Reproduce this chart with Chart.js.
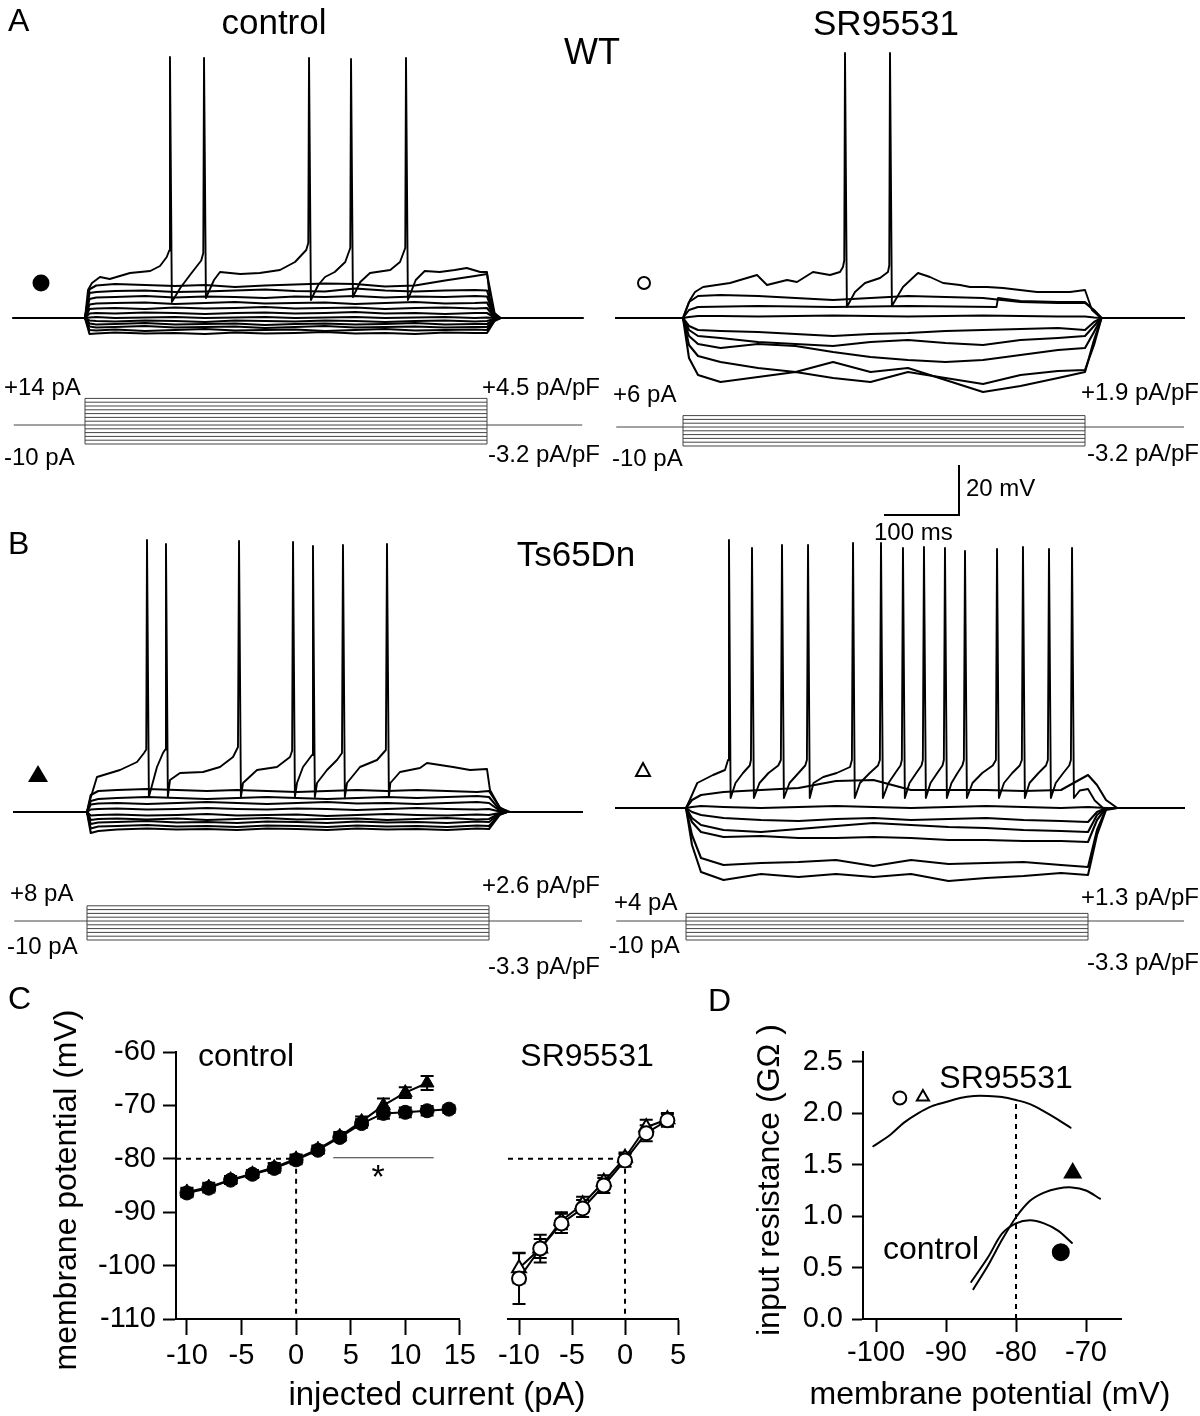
<!DOCTYPE html>
<html>
<head>
<meta charset="utf-8">
<title>Figure</title>
<script src="https://cdn.jsdelivr.net/npm/chart.js@4.4.1/dist/chart.umd.min.js"></script>
<style>
html,body{margin:0;padding:0;background:#fff;}
#fig{position:relative;width:1200px;height:1416px;overflow:hidden;background:#fff;font-family:"Liberation Sans",Arial,Helvetica,sans-serif;color:#000;}
#fig canvas{position:absolute;}
.lbl{position:absolute;white-space:nowrap;line-height:1;}
</style>
</head>
<body>
<div id="fig"></div>
<script>
// ===================== DATA =====================
const REST = -80;          // resting potential (mV)
const STEP_MS = 536;       // duration of current step (ms)

// ---- Panel A, WT control (currents in pA) ----
const aCtrlSteps = [14,12,10,8,6,4,2,0,-2,-4,-6,-8,-10];
const aCtrlTime = [-95,0,6,15,40,80,120,160,200,240,280,320,360,400,440,480,520,536,546,554,663];
const aCtrlVm = [
 [-80,-80,-68.5,-67,-66.4,-66.8,-67.2,-66.8,-67.6,-67.0,-66.6,-66.2,-66.4,-67.4,-67.0,-65.0,-63.2,-62.4,-78,-80,-80],   // +12
 [-80,-80,-70,-69.6,-69.2,-69.0,-69.6,-69.4,-69.0,-68.6,-69.2,-69.4,-68.2,-69.0,-69.4,-69.0,-68.8,-69.0,-79,-80,-80],    // +10
 [-80,-80,-72.4,-71.8,-71.6,-71.2,-71.8,-71.4,-71.6,-72.0,-71.4,-71.6,-71.2,-71.8,-71.4,-71.6,-71.2,-71.4,-79.5,-80,-80], // +8
 [-80,-80,-74.6,-74.2,-74.0,-73.8,-74.4,-74.0,-73.6,-74.2,-74.0,-73.8,-74.4,-74.0,-73.6,-74.2,-74.0,-73.8,-79.6,-80,-80], // +6
 [-80,-80,-76.4,-76.2,-76.0,-76.4,-75.8,-76.2,-76.0,-75.6,-76.2,-76.0,-75.8,-76.4,-76.0,-75.8,-76.2,-76.0,-79.7,-80,-80], // +4
 [-80,-80,-78.2,-78.0,-78.2,-77.8,-78.0,-78.4,-78.0,-77.8,-78.2,-78.0,-77.6,-78.2,-78.0,-78.4,-78.0,-78.0,-79.8,-80,-80], // +2
 [-80,-80,-79.8,-79.6,-80.0,-79.8,-79.6,-80.0,-79.8,-79.6,-80.0,-79.8,-79.6,-80.0,-79.8,-79.6,-80.0,-79.8,-80,-80,-80],   // 0
 [-80,-80,-81.0,-81.2,-81.4,-81.0,-81.2,-81.6,-81.0,-81.2,-81.4,-81.0,-81.2,-81.6,-81.2,-81.0,-81.4,-81.2,-80.3,-80,-80], // -2
 [-80,-80,-82.2,-82.6,-82.4,-82.0,-82.6,-82.4,-82.2,-82.8,-82.4,-82.2,-82.6,-82.4,-82.0,-82.6,-82.4,-82.4,-80.5,-80,-80], // -4
 [-80,-80,-83.4,-83.8,-83.6,-83.2,-83.8,-83.6,-83.4,-84.0,-83.6,-83.2,-83.8,-83.6,-83.4,-83.8,-83.6,-83.6,-80.7,-80,-80], // -6
 [-80,-80,-84.8,-85.0,-84.6,-85.2,-84.8,-84.4,-85.0,-84.8,-84.6,-85.2,-84.8,-84.4,-85.0,-84.8,-84.6,-84.8,-81,-80,-80],   // -8
 [-80,-80,-86.4,-86.2,-85.8,-86.2,-86.0,-86.4,-85.8,-86.2,-86.0,-85.6,-86.2,-86.0,-86.4,-85.8,-86.0,-86.0,-81.2,-80,-80]  // -10
];
const aCtrlSpiking = [[-95,-80],[0,-80],[4,-68.8],[9.3,-66],[20,-63.6],[33,-64.4],[60,-62],[87,-61.2],[100,-59.2],[109,-55.6],[112.3,-53],[113.3,24.4],[115.8,-73.6],[127,-68],[140,-62.8],[155,-57],[157.7,-54],[158.7,24],[161.2,-72],[172,-64.8],[180,-61.6],[207,-62.4],[233,-62],[260,-60.8],[280,-57.6],[295,-52.8],[297.7,-50],[298.7,24],[301.2,-72.8],[311,-66.8],[320,-63.6],[333,-61.6],[347,-57.6],[353.7,-52],[354.7,23.6],[357.2,-71.6],[367,-65.6],[380,-62],[407,-60.8],[420,-57.6],[427,-52],[428,24],[430.5,-72.8],[441,-64.8],[453,-61.2],[473,-61.6],[493,-60.8],[509,-60],[527,-61.6],[536,-61.6],[540,-72.8],[548,-80],[663,-80]];

// ---- Panel A, WT SR95531 ----
const aSrSteps = [6,4,2,0,-2,-4,-6,-8,-10];
const aSrTime = [-89,0,8,20,50,100,150,200,250,300,350,400,450,500,536,548,558,668];
const aSrVm = [
 [-80,-80,-73.6,-71.2,-70.8,-71.2,-72,-72.8,-72,-71.2,-71.6,-72,-73.6,-74,-74,-76.8,-80,-80],            // +4
 [-80,-80,-79.6,-79.2,-79.2,-79.4,-79.2,-79.0,-79.2,-79.4,-79.2,-79.0,-79.2,-79.4,-79.4,-79.8,-80,-80],  // 0
 [-80,-80,-83.2,-84.8,-85.2,-85.6,-86.4,-87.2,-86.4,-86,-85.2,-84.8,-84.4,-84,-84.8,-81.6,-80,-80],      // -2
 [-80,-80,-84.8,-87.2,-88,-89.6,-90.4,-91.2,-89.6,-88.8,-90,-90.8,-88.8,-88,-87.2,-83.2,-80,-80],        // -4
 [-80,-80,-87.2,-90.4,-92,-90.4,-91.2,-93.6,-95.6,-96.8,-97.6,-96.8,-94.8,-92.8,-92,-85.6,-80,-80],      // -6
 [-80,-80,-90.8,-95.2,-97.6,-100,-101.6,-97.6,-101.6,-100,-104.8,-109.6,-107.2,-104,-101.6,-88.8,-80,-80], // -8
 [-80,-80,-96,-102.8,-105.6,-103.6,-101.6,-104,-105.6,-101.6,-104,-106.4,-102.8,-101.2,-100.8,-90.8,-80,-80] // -10
];
const aSrPlus2 = [[-89,-80],[0,-80],[8,-76.8],[20,-75.6],[100,-75.2],[200,-75.6],[300,-75.2],[418,-75.6],[420,-72],[430,-72.4],[450,-73.2],[500,-73.6],[536,-73.6],[548,-77],[558,-80],[668,-80]];
const aSrSpiking = [[-89,-80],[0,-80],[9.3,-72.8],[16,-69.6],[26.7,-67.6],[62.7,-66],[98.7,-62.8],[112,-66.8],[138.7,-64.8],[152,-65.6],[173.3,-61.6],[196,-62.8],[209.3,-61.6],[213.3,-59.6],[215,-57],[216,26],[218.5,-75.6],[229.3,-69.6],[242.7,-66],[262.7,-64],[273.3,-61.6],[275,-59],[276,26],[278.5,-75.2],[293.3,-67.6],[313.3,-62],[329.3,-63.6],[346.7,-66],[369.3,-66.8],[382.7,-67.6],[405.3,-67.6],[426.7,-68],[449.3,-68.8],[472,-69.6],[493.3,-69.6],[516,-69.6],[536,-68.8],[545.3,-76.8],[557.3,-80],[668,-80]];

// ---- Panel B, Ts65Dn control ----
const bCtrlSteps = [8,6,4,2,0,-2,-4,-6,-8,-10];
const bCtrlTime = [-97,0,5,15,40,80,120,160,200,240,280,320,360,400,440,480,520,536,550,560,660];
const bCtrlVm = [
 [-80,-80,-73.2,-71.6,-71.2,-70.8,-71.2,-71.6,-71.2,-71.6,-72,-71.6,-71.2,-71.6,-71.2,-71.6,-72,-71.6,-78,-80,-80],      // +6
 [-80,-80,-75.6,-74.8,-74.4,-74.0,-74.4,-74.8,-74.4,-74.0,-74.4,-74.8,-74.4,-74.0,-74.4,-74.0,-73.6,-74.0,-79,-80,-80],  // +4
 [-80,-80,-77,-76.6,-76.4,-76.8,-76.4,-76.0,-76.4,-76.8,-76.4,-76.0,-76.6,-76.4,-76.8,-76.4,-76.0,-76.4,-79.4,-80,-80],  // +2
 [-80,-80,-79,-78.8,-78.6,-79,-78.8,-78.4,-78.8,-79,-78.6,-78.8,-79.2,-78.8,-78.4,-78.8,-79,-78.8,-79.8,-80,-80],        // 0
 [-80,-80,-81.4,-81.2,-81.0,-81.4,-81.2,-80.8,-81.4,-81.2,-81.0,-81.6,-81.2,-80.8,-81.2,-81.4,-81.0,-81.2,-80.4,-80,-80], // -2
 [-80,-80,-83.2,-82.8,-82.6,-83.0,-82.6,-83.2,-82.8,-82.4,-83.0,-82.8,-82.6,-83.2,-82.8,-82.4,-83.0,-82.8,-80.6,-80,-80], // -4
 [-80,-80,-84.8,-84.2,-84.0,-83.6,-84.2,-84.0,-84.4,-83.8,-84.0,-84.4,-83.8,-84.2,-84.0,-84.4,-83.8,-84.0,-80.8,-80,-80], // -6
 [-80,-80,-86.6,-85.8,-85.6,-85.2,-85.8,-85.6,-86.0,-85.4,-85.6,-86.0,-85.4,-85.8,-85.6,-86.0,-85.4,-85.6,-81,-80,-80],   // -8
 [-80,-80,-88.4,-87.6,-87.0,-86.6,-87.0,-86.8,-87.2,-86.6,-86.8,-87.2,-86.6,-87.0,-86.8,-87.2,-86.6,-86.8,-81.2,-80,-80]  // -10
];
const bCtrlSpiking = [[-97,-80],[0,-80],[4,-75.2],[13.3,-66],[44,-63.2],[66.7,-60],[76,-56.4],[79,-55],[80,28.8],[82.5,-74],[93.3,-62],[101.3,-56.4],[104.3,-55],[105.3,27.2],[107.8,-74],[110.7,-67.2],[124,-64.4],[154.7,-64],[177.3,-62],[194.7,-58],[201.3,-54],[202.7,28.4],[205.2,-74],[208,-68.4],[226.7,-63.2],[253.3,-62],[270.7,-58],[273.5,-55.5],[274.7,28],[277.2,-74],[280,-68.4],[288,-62],[300,-57.2],[301.3,26.4],[303.8,-74],[306.7,-68.4],[320,-63.2],[333.3,-59.2],[340,-56.4],[341.3,26.8],[343.8,-74],[346.7,-68.4],[364,-62],[386.7,-59.2],[398.5,-55.2],[400,27.2],[402.5,-74],[404.5,-68.4],[417.3,-64],[444,-62.4],[453.3,-60.4],[470.7,-61.2],[488,-62],[510.7,-63.2],[533.3,-62.8],[537.3,-71.2],[550.7,-78.4],[564,-80],[660,-80]];

// ---- Panel B, Ts65Dn SR95531 ----
const bSrSteps = [4,2,0,-2,-4,-6,-8,-10];
const bSrTime = [-93,0,8,20,50,100,150,200,250,300,350,400,450,500,536,548,560,575,664];
const bSrVm = [
 [-80,-80,-76.8,-74.8,-73.6,-72.8,-72,-69.2,-68.8,-72.8,-72.8,-72.8,-73.2,-72.8,-66.8,-70.8,-76.8,-80,-80],     // +2
 [-80,-80,-79.6,-79.2,-79.6,-80,-79.6,-79.2,-79.6,-80,-79.6,-79.2,-79.6,-80,-79.6,-79.8,-80,-80,-80],            // 0
 [-80,-80,-81.6,-82.8,-84,-84.8,-85.2,-84.4,-84,-84.8,-84.4,-84,-84.8,-85.2,-85.6,-81.6,-80,-80,-80],            // -2
 [-80,-80,-84,-86.8,-88.8,-89.6,-88.4,-87.2,-86,-86.8,-87.6,-88,-88.8,-89.2,-89.6,-82.8,-80,-80,-80],            // -4
 [-80,-80,-85.6,-89.6,-91.6,-91.2,-92,-92,-91.6,-92,-92.8,-92.8,-93.2,-93.2,-93.6,-84.8,-80,-80,-80],            // -6
 [-80,-80,-90.8,-100,-102.8,-102,-101.6,-100.8,-103.2,-100.8,-102.4,-102,-101.6,-102.8,-103.6,-88.8,-80.4,-80,-80], // -8
 [-80,-80,-94.8,-105.6,-108.8,-106.4,-107.6,-106.4,-107.6,-106.4,-109.2,-108,-107.2,-106,-106.8,-90.8,-80.8,-80,-80] // -10
];
const bSrSpiking = [[-93,-80],[0,-80],[5,-76.8],[15,-70],[36,-66.8],[52,-64.8],[56,-60.8],[57.3,27.2],[59.5,-76],
 [66,-70],[76,-66],[85,-63],[86.6,-60.8],[88,24],[90.5,-76],
 [98,-70],[110,-66],[123,-63],[126.5,-60.8],[128,25.2],[130.5,-76],
 [138,-70],[150,-66],[159,-63],[161.2,-60.8],[162.7,25.2],[165,-76],
 [170,-70],[183,-67.6],[201,-66],[218.7,-63.6],[221.2,-60.8],[222.7,26],[225,-76],
 [232,-70],[245,-66],[256,-63],[258.5,-60.8],[260,26],[262.5,-76],
 [270,-70],[279,-66],[286,-63],[287.8,-60.8],[289.3,24],[291.8,-76],
 [298,-70],[307,-66],[314,-63],[315.8,-60.8],[317.3,24.4],[319.8,-76],
 [326,-70],[335,-66],[342,-63],[343.8,-60.8],[345.3,24],[347.8,-76],
 [354,-70],[362,-66],[368.5,-63],[370.5,-60.8],[372,22.8],[374.5,-76],
 [382,-70],[395,-66],[409,-63],[413.2,-60.8],[414.7,23.6],[417.2,-76],
 [424,-70],[435,-66],[445,-63],[447.8,-60.8],[449.3,24.4],[451.8,-76],
 [458,-70],[470,-66],[480,-63],[482.5,-60.8],[484,23.6],[486.5,-76],
 [493,-70],[503,-66],[511,-63],[513.2,-60.8],[514.7,24],[517.2,-76],
 [525,-73],[536,-72.4],[545,-77],[556,-80],[664,-80]];

// ---- Scale bar ----
const scaleBarMs = 100, scaleBarMv = 20;

// ---- Panel C: I-V relations ----
const cCtrlTicksX = [-10,-5,0,5,10,15];
const cSrTicksX = [-10,-5,0,5];
const cTicksY = [-110,-100,-90,-80,-70,-60];
const cCurrentWT = [-10,-8,-6,-4,-2,0,2,4,6,8,10,12,14];
const cVmWT      = [-86.4,-85.5,-84.0,-82.9,-81.8,-80.2,-78.4,-76.0,-73.4,-71.5,-71.3,-71.0,-70.7];
const cSemWT     = [0.8,0.8,0.7,0.7,0.8,0.8,0.7,0.7,0.8,1.0,0.9,0.9,0.7];
const cCurrentTs = [-10,-8,-6,-4,-2,0,2,4,6,8,10,12];
const cVmTs      = [-86.2,-85.3,-83.9,-82.8,-81.6,-80.0,-78.2,-75.8,-73.0,-70.0,-67.6,-65.8];
const cSemTs     = [0.8,0.8,0.7,0.7,0.8,0.8,0.7,0.8,0.9,1.3,1.0,1.3];
const cSrCurrent = [-10,-8,-6,-4,-2,0,2,4];
const cSrVmWT    = [-102.4,-96.8,-92.1,-89.3,-85.0,-80.3,-75.2,-72.8];
const cSrSemWT   = [4.8,1.8,1.8,1.6,1.4,1.2,1.5,1.2];
const cSrVmTs    = [-100.5,-96.8,-91.6,-88.5,-84.3,-79.8,-74.1,-72.6];
const cSrSemTs   = [2.8,2.6,1.6,1.4,1.2,1.0,1.4,1.2];
const cSigBar    = [3.4,12.6];   // pA range of significance bar
const cSigBarVm  = -79.8;

// ---- Panel D: input resistance vs membrane potential ----
const dTicksX = [-100,-90,-80,-70];
const dTicksY = [0,0.5,1,1.5,2,2.5];
const dSrVm   = [-100.4,-98,-96,-94,-92,-90,-88,-86,-84,-82,-80,-78,-76,-74,-72.2];
const dSrRin  = [1.68,1.79,1.91,2.0,2.07,2.11,2.15,2.17,2.17,2.16,2.13,2.09,2.02,1.94,1.86];
const dWtVm   = [-86.4,-84,-82,-80,-78,-76,-74,-72];
const dWtRin  = [0.36,0.60,0.83,0.93,0.96,0.93,0.86,0.74];
const dTsVm   = [-86.1,-84,-82,-80,-78,-76,-74,-72,-70,-68];
const dTsRin  = [0.29,0.52,0.77,0.99,1.15,1.23,1.27,1.28,1.25,1.17];
const dMarkVm  = [-96.6,-93.3,-71.9,-73.6];   // open circle, open triangle, filled triangle, filled circle
const dMarkRin = [2.15,2.16,1.42,0.65];
const dRefVm = -80, dRefTop = 2.10;

// ===================== LAYOUT / DRAWING =====================
const FONT = '"Liberation Sans", Arial, Helvetica, sans-serif';
Chart.defaults.font.family = FONT;
Chart.defaults.color = '#000';
const PX_PER_MS = 0.75, PX_PER_MV = 2.5, PX_PER_PA = 1.9;
const TICK_FONT = 29;
const fig = document.getElementById('fig');

function addCanvas(left, top, w, h){
  const c = document.createElement('canvas');
  c.width = w; c.height = h;
  c.style.left = left + 'px'; c.style.top = top + 'px';
  c.style.width = w + 'px'; c.style.height = h + 'px';
  fig.appendChild(c);
  return c;
}
function addText(txt, x, y, size, anchor, rot){
  const d = document.createElement('div');
  d.className = 'lbl';
  d.textContent = txt;
  d.style.fontSize = size + 'px';
  d.style.left = x + 'px'; d.style.top = y + 'px';
  const tx = anchor === 'c' ? '-50%' : (anchor === 'r' ? '-100%' : '0');
  d.style.transform = 'translate(' + tx + ',-50%)' + (rot ? ' rotate(' + rot + 'deg)' : '');
  fig.appendChild(d);
}
const baseOpts = {responsive:false, maintainAspectRatio:false, animation:false, devicePixelRatio:1, events:[],
  plugins:{legend:{display:false}, tooltip:{enabled:false}}};

function lineDs(pts, w, extra){
  return Object.assign({data:pts, showLine:true, borderColor:'#000', borderWidth:w, pointRadius:0,
    fill:false, tension:0, borderJoinStyle:'round', borderCapStyle:'round', yAxisID:'y'}, extra || {});
}

function traceChart(spec){
  const c = addCanvas(spec.left, spec.top, spec.width, spec.height);
  const x0 = spec.onsetX - spec.left, yr = spec.restY - spec.top, yz = spec.zeroY - spec.top;
  const ds = [];
  spec.gridTraces.forEach(vals => ds.push(lineDs(spec.grid.map((t,i)=>({x:t, y:vals[i]})), 2.1)));
  spec.pairTraces.forEach(p => ds.push(lineDs(p.map(q=>({x:q[0], y:q[1]})), 1.9)));
  const imax = Math.max(...spec.steps), imin = Math.min(...spec.steps);
  const sOpt = {borderColor:'#444', yAxisID:'y2', borderCapStyle:'butt'};
  spec.steps.forEach(I => ds.push(lineDs([{x:0,y:I},{x:STEP_MS,y:I}], 1, sOpt)));
  ds.push(lineDs([{x:0,y:imin},{x:0,y:imax}], 1, sOpt));
  ds.push(lineDs([{x:STEP_MS,y:imin},{x:STEP_MS,y:imax}], 1, sOpt));
  ds.push(lineDs([{x:spec.tStart,y:0},{x:0,y:0}], 1, sOpt));
  ds.push(lineDs([{x:STEP_MS,y:0},{x:spec.tEnd,y:0}], 1, sOpt));
  if (spec.scaleBar){
    const cx = (spec.scaleBar.x - spec.onsetX)/PX_PER_MS;
    const cy = REST - (spec.scaleBar.y - spec.restY)/PX_PER_MV;
    ds.push(lineDs([{x:cx - scaleBarMs, y:cy},{x:cx, y:cy},{x:cx, y:cy + scaleBarMv}], 2, {borderCapStyle:'butt', borderJoinStyle:'miter'}));
  }
  new Chart(c, {type:'scatter', data:{datasets:ds}, options:Object.assign({}, baseOpts, {
    layout:{padding:0},
    scales:{
      x:{type:'linear', display:false, min:-x0/PX_PER_MS, max:(spec.width - x0)/PX_PER_MS},
      y:{type:'linear', display:false, min:REST - (spec.height - yr)/PX_PER_MV, max:REST + yr/PX_PER_MV},
      y2:{type:'linear', display:false, min:-(spec.height - yz)/PX_PER_PA, max:yz/PX_PER_PA}
    }})});
}

// A - WT control
traceChart({left:0, top:0, width:600, height:480, onsetX:85, restY:318, zeroY:425,
  grid:aCtrlTime, gridTraces:aCtrlVm, pairTraces:[aCtrlSpiking], steps:aCtrlSteps, tStart:-95, tEnd:663});
// A - WT SR95531 (with scale bar)
traceChart({left:600, top:0, width:600, height:530, onsetX:683, restY:318, zeroY:427,
  grid:aSrTime, gridTraces:aSrVm, pairTraces:[aSrPlus2, aSrSpiking], steps:aSrSteps, tStart:-89, tEnd:668,
  scaleBar:{x:959, y:515}});
// B - Ts65Dn control
traceChart({left:0, top:480, width:600, height:500, onsetX:87, restY:812, zeroY:921,
  grid:bCtrlTime, gridTraces:bCtrlVm, pairTraces:[bCtrlSpiking], steps:bCtrlSteps, tStart:-97, tEnd:660});
// B - Ts65Dn SR95531
traceChart({left:600, top:480, width:600, height:500, onsetX:686, restY:808, zeroY:921,
  grid:bSrTime, gridTraces:bSrVm, pairTraces:[bSrSpiking], steps:bSrSteps, tStart:-93, tEnd:664});

// ---------- error bar plugin ----------
const errorBarPlugin = {
  id:'errbars',
  beforeDatasetsDraw(chart, args, opts){
    const ctx = chart.ctx, x = chart.scales.x, y = chart.scales.y;
    ctx.save(); ctx.strokeStyle = '#000'; ctx.lineWidth = 2;
    (opts.sets || []).forEach(s => {
      chart.data.datasets[s.index].data.forEach((p, i) => {
        const e = s.sem[i], px = x.getPixelForValue(p.x);
        const y1 = y.getPixelForValue(p.y + e), y2 = y.getPixelForValue(p.y - e);
        ctx.beginPath();
        ctx.moveTo(px, y1); ctx.lineTo(px, y2);
        ctx.moveTo(px - 6.5, y1); ctx.lineTo(px + 6.5, y1);
        ctx.moveTo(px - 6.5, y2); ctx.lineTo(px + 6.5, y2);
        ctx.stroke();
      });
    });
    ctx.restore();
  }
};
function axis(min, max, ticks, tickLen, pad, fit, display, fmt){
  return {type:'linear', min:min, max:max, display:display,
    afterBuildTicks:s => { s.ticks = ticks.map(v => ({value:v})); },
    afterFit:fit,
    grid:{display:true, drawOnChartArea:false, drawTicks:true, tickLength:tickLen, tickWidth:2, tickColor:'#000'},
    border:{display:true, color:'#000', width:2},
    ticks:{color:'#000', font:{size:TICK_FONT, family:FONT}, padding:pad, autoSkip:false, maxRotation:0, minRotation:0,
      callback: fmt || (v => String(v))}};
}
const pts = (xs, ys) => xs.map((v,i) => ({x:v, y:ys[i]}));
const dash = (p) => lineDs(p, 2, {borderDash:[5,5], borderCapStyle:'butt'});

// ---------- C: control ----------
{
  const c = addCanvas(0, 980, 480, 436);
  const xMin = -11, xMax = 15;
  new Chart(c, {type:'scatter', plugins:[errorBarPlugin], data:{datasets:[
    lineDs(pts(cCurrentWT, cVmWT), 2, {pointRadius:7, pointStyle:'circle', pointBackgroundColor:'#000', pointBorderColor:'#000', pointBorderWidth:1}),
    lineDs(pts(cCurrentTs, cVmTs), 2, {pointRadius:8, pointStyle:'triangle', pointBackgroundColor:'#000', pointBorderColor:'#000', pointBorderWidth:1}),
    dash([{x:xMin, y:REST},{x:0, y:REST}]),
    dash([{x:0, y:REST},{x:0, y:-110}]),
    lineDs([{x:cSigBar[0], y:cSigBarVm},{x:cSigBar[1], y:cSigBarVm}], 1.2, {borderColor:'#333', borderCapStyle:'butt'})
  ]}, options:Object.assign({}, baseOpts, {
    layout:{padding:{left:0, top:72, right:20, bottom:0}},
    plugins:{legend:{display:false}, tooltip:{enabled:false}, errbars:{sets:[{index:0, sem:cSemWT},{index:1, sem:cSemTs}]}},
    scales:{
      x:axis(xMin, xMax, cCtrlTicksX, 16, 4, s => { s.height = 97; }, true),
      y:axis(-110, -60, cTicksY, 13, 7, s => { s.width = 176; }, true)
    }})});
}
// ---------- C: SR95531 ----------
{
  const c = addCanvas(480, 980, 240, 436);
  const xMin = -11.04, xMax = 5;
  new Chart(c, {type:'scatter', plugins:[errorBarPlugin], data:{datasets:[
    lineDs(pts(cSrCurrent, cSrVmWT), 2, {pointRadius:7, pointStyle:'circle', pointBackgroundColor:'#fff', pointBorderColor:'#000', pointBorderWidth:2}),
    lineDs(pts(cSrCurrent, cSrVmTs), 2, {pointRadius:8, pointStyle:'triangle', pointBackgroundColor:'#fff', pointBorderColor:'#000', pointBorderWidth:2}),
    dash([{x:xMin, y:REST},{x:0, y:REST}]),
    dash([{x:0, y:REST},{x:0, y:-110}])
  ]}, options:Object.assign({}, baseOpts, {
    layout:{padding:{left:28, top:72, right:42, bottom:0}},
    plugins:{legend:{display:false}, tooltip:{enabled:false}, errbars:{sets:[{index:1, sem:cSrSemTs},{index:0, sem:cSrSemWT}]}},
    scales:{
      x:axis(xMin, xMax, cSrTicksX, 16, 4, s => { s.height = 97; }, true),
      y:axis(-110, -60, cTicksY, 13, 8, null, false)
    }})});
}
// ---------- D ----------
{
  const c = addCanvas(720, 980, 480, 436);
  const mk = (i, style, fill, r) => ({data:[{x:dMarkVm[i], y:dMarkRin[i]}], showLine:false, pointStyle:style, pointRadius:r,
    pointBackgroundColor:fill, pointBorderColor:'#000', pointBorderWidth:2});
  new Chart(c, {type:'scatter', data:{datasets:[
    mk(0, 'circle', '#fff', 6.5), mk(1, 'triangle', '#fff', 7), mk(2, 'triangle', '#000', 9), mk(3, 'circle', '#000', 8),
    lineDs(pts(dSrVm, dSrRin), 2, {tension:0.3}),
    lineDs(pts(dWtVm, dWtRin), 2, {tension:0.3}),
    lineDs(pts(dTsVm, dTsRin), 2, {tension:0.3}),
    dash([{x:dRefVm, y:0},{x:dRefVm, y:dRefTop}])
  ]}, options:Object.assign({}, baseOpts, {
    layout:{padding:{left:0, top:72, right:79, bottom:0}},
    scales:{
      x:axis(-101.86, -65, dTicksX, 13, 4, s => { s.height = 97; }, true),
      y:axis(0, 2.597, dTicksY, 11, 9, s => { s.width = 143; }, true, v => v.toFixed(1))
    }})});
}

// ---------- legend markers (A/B) ----------
const svgNS = 'http://www.w3.org/2000/svg';
const svg = document.createElementNS(svgNS, 'svg');
svg.setAttribute('width', 1200); svg.setAttribute('height', 1416);
svg.style.position = 'absolute'; svg.style.left = '0'; svg.style.top = '0';
svg.innerHTML =
  '<circle cx="41" cy="283" r="8.5" fill="#000"/>' +
  '<circle cx="644" cy="283" r="6" fill="#fff" stroke="#000" stroke-width="2"/>' +
  '<polygon points="38,765 48,782 28,782" fill="#000"/>' +
  '<polygon points="643,763 650,776 636,776" fill="#fff" stroke="#000" stroke-width="2"/>';
fig.appendChild(svg);

// ---------- texts ----------
const SIDE = 24;
addText('A', 8, 20, 32, 'l');
addText('control', 274, 21, 35, 'c');
addText('WT', 592, 52, 36, 'c');
addText('SR95531', 886, 22, 35, 'c');
addText('B', 8, 543, 32, 'l');
addText('Ts65Dn', 576, 553, 35, 'c');
addText('C', 8, 998, 32, 'l');
addText('D', 708, 1000, 32, 'l');

addText('+14 pA', 4, 387, SIDE, 'l');
addText('-10 pA', 4, 457, SIDE, 'l');
addText('+4.5 pA/pF', 600, 387, SIDE, 'r');
addText('-3.2 pA/pF', 600, 454, SIDE, 'r');
addText('+6 pA', 613, 394, SIDE, 'l');
addText('-10 pA', 612, 458, SIDE, 'l');
addText('+1.9 pA/pF', 1199, 392, SIDE, 'r');
addText('-3.2 pA/pF', 1199, 453, SIDE, 'r');
addText('+8 pA', 10, 893, SIDE, 'l');
addText('-10 pA', 7, 946, SIDE, 'l');
addText('+2.6 pA/pF', 600, 885, SIDE, 'r');
addText('-3.3 pA/pF', 600, 966, SIDE, 'r');
addText('+4 pA', 614, 902, SIDE, 'l');
addText('-10 pA', 609, 945, SIDE, 'l');
addText('+1.3 pA/pF', 1199, 897, SIDE, 'r');
addText('-3.3 pA/pF', 1199, 962, SIDE, 'r');
addText('20 mV', 966, 488, SIDE, 'l');
addText('100 ms', 874, 532, SIDE, 'l');

addText('control', 198, 1055, 32, 'l');
addText('SR95531', 587, 1055, 32, 'c');
addText('*', 378, 1176, 34, 'c');
addText('membrane potential (mV)', 65, 1190, 32, 'c', -90);
addText('injected current (pA)', 437, 1393, 33, 'c');
addText('input resistance (G\u03A9 )', 768, 1180, 32, 'c', -90);
addText('membrane potential (mV)', 990, 1393, 32, 'c');
addText('SR95531', 1006, 1077, 32, 'c');
addText('control', 931, 1248, 32, 'c');
</script>
</body>
</html>
